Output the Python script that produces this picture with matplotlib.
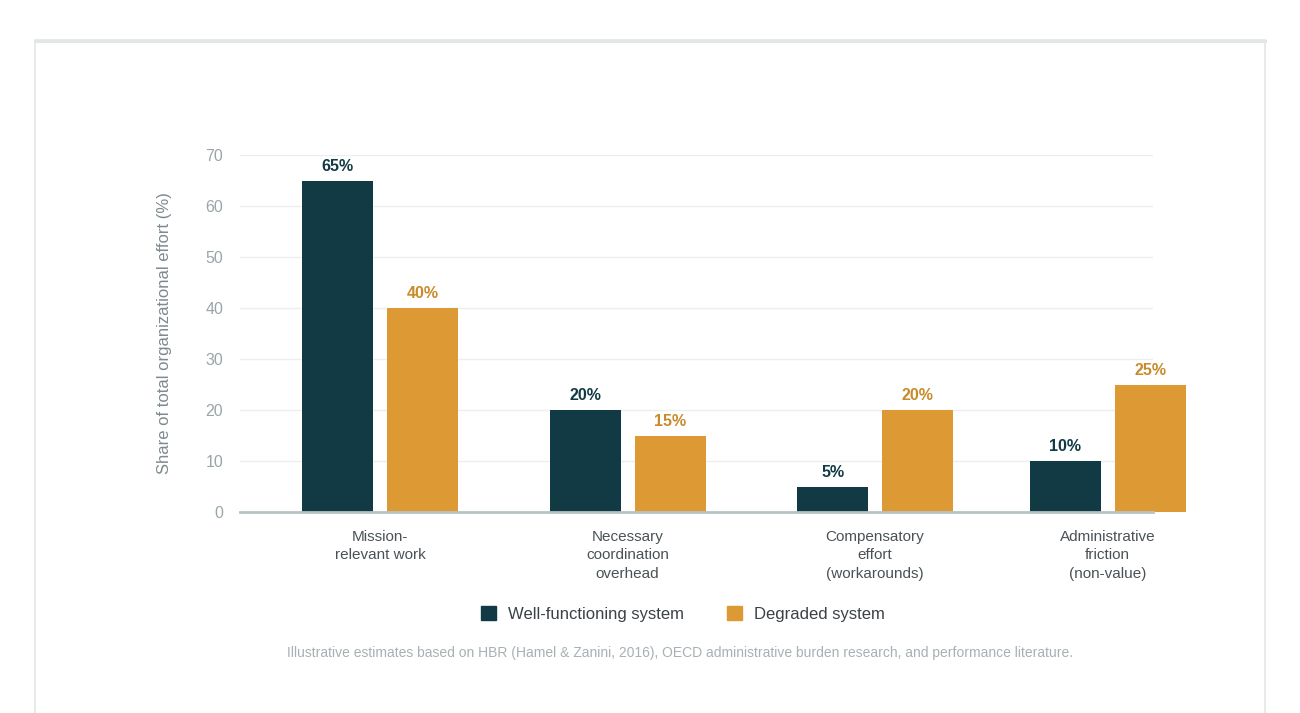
import numpy as np
import matplotlib
matplotlib.use("Agg")
import matplotlib.pyplot as plt
from matplotlib.patches import Rectangle, Patch

plt.rcParams['font.family'] = ['Liberation Sans', 'DejaVu Sans']

categories = ["Mission-\nrelevant work", "Necessary\ncoordination\noverhead",
              "Compensatory\neffort\n(workarounds)", "Administrative\nfriction\n(non-value)"]
well = [65, 20, 5, 10]
degraded = [40, 15, 20, 25]
series_names = ["Well-functioning system", "Degraded system"]
note = ("Illustrative estimates based on HBR (Hamel & Zanini, 2016), OECD administrative "
        "burden research, and performance literature.")

dark = "#113a45"
orange = "#dd9933"
orange_txt = "#c98a2a"

fig = plt.figure(figsize=(13, 7.13), dpi=100)
W, H = 1300, 713

# card border
card = Rectangle((35 / W, -0.05), 1230 / W, (H - 40) / H + 0.05, transform=fig.transFigure,
                 facecolor="white", edgecolor="#e2e7e6", linewidth=1.2, zorder=-2)
fig.patches.append(card)
fig.add_artist(plt.Line2D([35 / W, 1265 / W], [(H - 40.5) / H] * 2, color="#e2e7e6", lw=2.2,
                          zorder=-1))

ax = fig.add_axes([240 / W, 1 - 512 / H, (1153 - 240) / W, (512 - 155) / H], zorder=2)
ax.set_facecolor("none")

xpos = np.array([0, 1, 2, 2.94])
bw = 0.287
off = 0.1717
ax.set_xlim(-0.566, 3.123)
ax.set_ylim(0, 70)

b1 = ax.bar(xpos - off, well, bw, color=dark, zorder=3, clip_on=False)
b2 = ax.bar(xpos + off, degraded, bw, color=orange, zorder=3, clip_on=False)

for bars, vals, c in [(b1, well, dark), (b2, degraded, orange_txt)]:
    for b, v in zip(bars, vals):
        ax.annotate(f"{v}%", (b.get_x() + b.get_width() / 2, v), xytext=(0, 5),
                    textcoords="offset points", ha="center", va="bottom",
                    fontsize=11.5, fontweight="bold", color=c, annotation_clip=False)

ax.set_yticks(range(0, 71, 10))
ax.grid(axis="y", color="#eceff0", lw=1, zorder=0)
ax.tick_params(axis="y", length=0, pad=12, labelsize=11.5, labelcolor="#9aa5a8")
ax.set_xticks(xpos)
ax.set_xticklabels(categories, fontsize=11, color="#4a5256", linespacing=1.4)
ax.tick_params(axis="x", length=0, pad=13)
for s in ["top", "right", "left"]:
    ax.spines[s].set_visible(False)
ax.spines["bottom"].set_color("#b8c2c4")
ax.spines["bottom"].set_linewidth(2)
ax.spines["bottom"].set_zorder(4)

fig.text(164 / W, 1 - 333 / H, "Share of total organizational effort (%)", rotation=90,
         ha="center", va="center", fontsize=12, color="#7d8a8d")

handles = [Patch(color=dark), Patch(color=orange)]
fig.legend(handles, series_names, loc="center", bbox_to_anchor=(683 / W, 1 - 614 / H),
           ncol=2, frameon=False, fontsize=12, handlelength=0.9, handleheight=0.9,
           handletextpad=0.7, columnspacing=2.6, labelcolor="#3a4246")

fig.text(680 / W, 1 - 653 / H, note, ha="center", va="center", fontsize=10, color="#a8b0b3")

fig.savefig("out.png", dpi=100)
